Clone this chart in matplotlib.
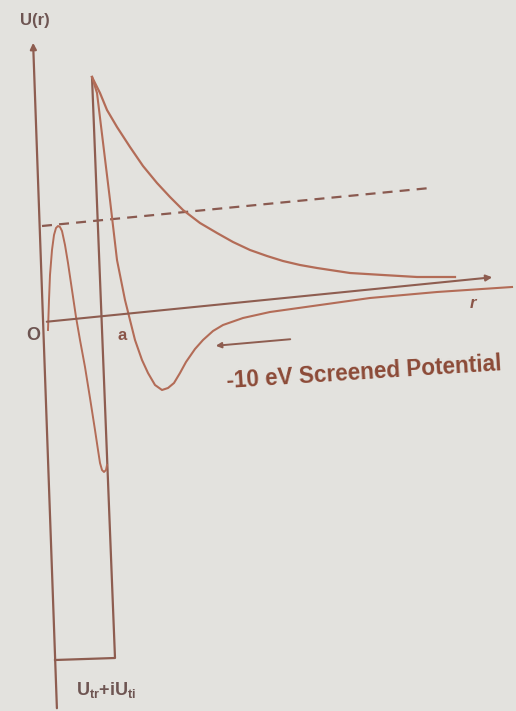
import matplotlib.pyplot as plt

# Sketch of the optical-model potential, traced in picture units (x right, y down)

# axes of the sketch
r_axis_x = [44, 495]
r_axis_y = [322, 277]
u_axis_x = [57, 33]
u_axis_y = [711, 40]

# dashed energy level
level_x = [42, 430]
level_y = [226, 188]

# Coulomb barrier outside the well
coul_x = [92, 96, 100, 107, 117, 130, 143, 157, 170, 183, 200, 217, 233, 250,
          267, 283, 300, 317, 350, 383, 417, 455]
coul_y = [77, 85, 93, 110, 127, 147, 166, 183, 197, 210, 223, 233, 242, 250,
          256, 261, 265, 268, 273, 275, 277, 277]

# square well U_tr + iU_ti
well_x = [55, 115, 92]
well_y = [660, 658, 77]

# -10 eV screened potential
scr_x = [92, 97, 110, 117, 125, 130, 135, 142, 148, 155, 162, 168, 174, 180,
         186, 195, 203, 213, 223, 243, 270, 320, 370, 437, 512]
scr_y = [77, 93, 200, 260, 300, 320, 340, 360, 373, 385, 390, 388, 383, 373,
         362, 349, 340, 331, 325, 318, 312, 305, 298, 292, 287]

# wave inside the well
wave_x = [48, 49, 50, 52, 54, 56, 58, 60, 62, 65, 68, 72, 76, 80, 85, 90, 95,
          98, 100, 102, 104, 106, 107]
wave_y = [330, 300, 275, 250, 235, 228, 226, 227, 231, 245, 263, 290, 317, 340,
          367, 398, 430, 450, 463, 470, 472, 470, 465]

bg = '#e3e2de'
axis_col = '#8e5d50'
curve_col = '#b36c57'
text_col = '#8c4a37'

fig = plt.figure(figsize=(5.16, 7.11), dpi=100)
fig.patch.set_facecolor(bg)
ax = fig.add_axes([0, 0, 1, 1])
ax.set_facecolor(bg)
ax.set_xlim(0, 516)
ax.set_ylim(711, 0)
ax.axis('off')

# axes with arrow heads
ax.annotate('', xy=(u_axis_x[1], u_axis_y[1]), xytext=(u_axis_x[0], u_axis_y[0]),
            arrowprops=dict(arrowstyle='-|>', color=axis_col, lw=1.6, mutation_scale=9))
ax.annotate('', xy=(r_axis_x[1], r_axis_y[1]), xytext=(r_axis_x[0], r_axis_y[0]),
            arrowprops=dict(arrowstyle='-|>', color=axis_col, lw=1.5, mutation_scale=9))

# dashed level
ax.plot(level_x, level_y, color='#8a5a50', lw=1.6, dashes=(4.5, 3.2))

# curves
ax.plot(well_x, well_y, color=axis_col, lw=1.6)
ax.plot(coul_x, coul_y, color=curve_col, lw=1.6)
ax.plot(scr_x, scr_y, color=curve_col, lw=1.5)
ax.plot(wave_x, wave_y, color=curve_col, lw=1.4)

# pointer to the screened potential
ax.annotate('', xy=(213, 346), xytext=(293, 339),
            arrowprops=dict(arrowstyle='-|>', color=axis_col, lw=1.4, mutation_scale=8))

plt.rcParams['mathtext.fontset'] = 'custom'
plt.rcParams['mathtext.bf'] = 'Liberation Sans:bold'
plt.rcParams['mathtext.rm'] = 'Liberation Sans'

font = 'Liberation Sans'
ax.text(35, 21, 'U(r)', family=font, fontweight='bold', fontsize=12, color='#6e5552',
        ha='center', va='center')
ax.text(33, 336, 'O', family=font, fontweight='bold', fontsize=13, color='#6e5552',
        ha='center', va='center')
ax.text(122, 336, 'a', family=font, fontweight='bold', fontsize=12, color='#8a5548',
        ha='center', va='center')
ax.text(473, 303, 'r', family=font, fontweight='bold', style='italic', fontsize=12,
        color='#8a5548', ha='center', va='center')
ax.text(364, 373, '-10 eV Screened Potential', family=font, fontweight='bold',
        fontsize=16.3, color=text_col, ha='center', va='center', rotation=3.7,
        rotation_mode='anchor')
ax.text(106, 690, r'$\mathbf{U_{tr}{+}iU_{ti}}$', fontsize=13, color='#6e5552',
        ha='center', va='center')

fig.savefig('out.png', dpi=100, facecolor=bg)
